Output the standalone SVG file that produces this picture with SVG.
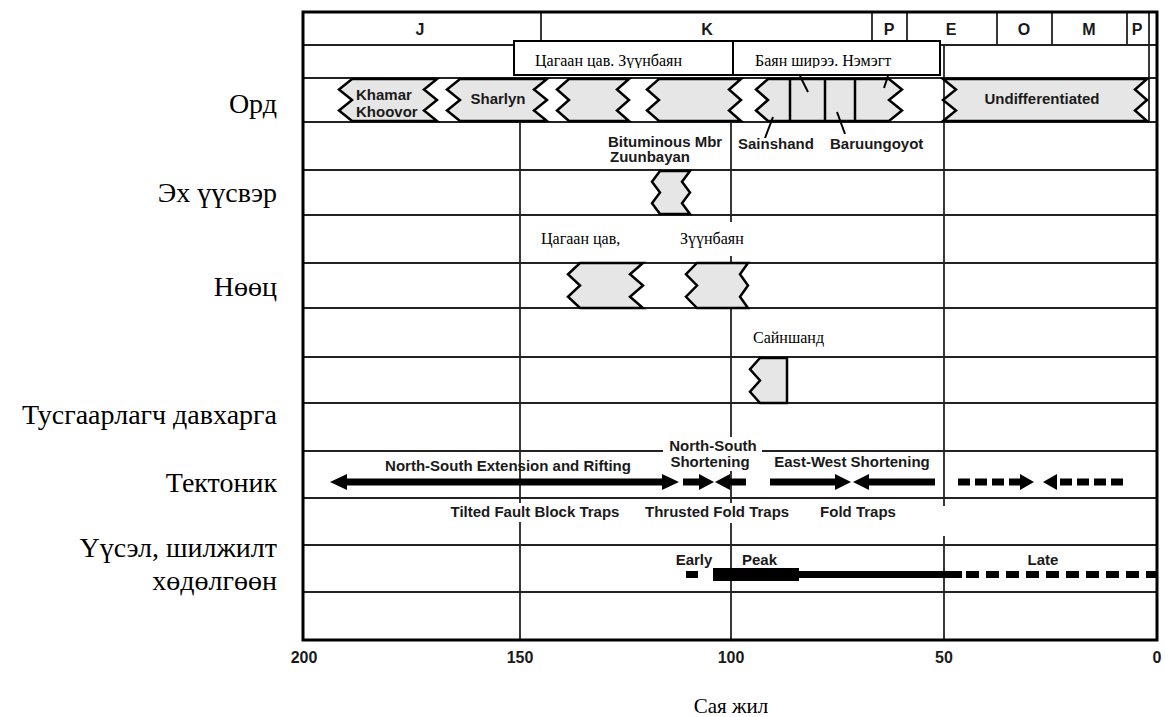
<svg xmlns="http://www.w3.org/2000/svg" width="1165" height="717" viewBox="0 0 1165 717">
<style>
.lbl{font-family:"Liberation Serif","Times New Roman",serif;font-size:28px;fill:#000}
.ser{font-family:"Liberation Serif","Times New Roman",serif;font-size:16px;fill:#000}
.b{font-family:"Liberation Sans",Arial,sans-serif;font-weight:bold;font-size:15px;fill:#1a1a1a}
.ax{font-family:"Liberation Sans",Arial,sans-serif;font-weight:bold;font-size:16px;fill:#1a1a1a}
.unit{fill:#e6e6e6;stroke:#000;stroke-width:2.5;stroke-linejoin:miter}
.grid{stroke:#222;stroke-width:1.8;fill:none}
.frame{stroke:#000;stroke-width:3;fill:none}
.box{fill:#fff;stroke:#000;stroke-width:2}
.arr{fill:#000;stroke:none}
.lead{stroke:#000;stroke-width:2}
.dash{stroke:#000;stroke-width:7;fill:none}
</style>
<defs>
<clipPath id="boxclip"><rect x="514" y="41" width="426" height="27"/></clipPath>
</defs>
<rect width="1165" height="717" fill="#fff"/>

<g id="grid">
<line class="grid" x1="303" y1="45" x2="1157" y2="45"/>
<line class="grid" x1="303" y1="78" x2="1157" y2="78"/>
<line class="grid" x1="303" y1="122" x2="1157" y2="122"/>
<line class="grid" x1="303" y1="170" x2="1157" y2="170"/>
<line class="grid" x1="303" y1="215" x2="1157" y2="215"/>
<line class="grid" x1="303" y1="263" x2="1157" y2="263"/>
<line class="grid" x1="303" y1="308" x2="1157" y2="308"/>
<line class="grid" x1="303" y1="357" x2="1157" y2="357"/>
<line class="grid" x1="303" y1="403" x2="1157" y2="403"/>
<line class="grid" x1="303" y1="451" x2="663" y2="451"/>
<line class="grid" x1="762" y1="451" x2="1157" y2="451"/>
<line class="grid" x1="303" y1="498" x2="1157" y2="498"/>
<line class="grid" x1="303" y1="545" x2="1157" y2="545"/>
<line class="grid" x1="303" y1="592" x2="1157" y2="592"/>
<line class="grid" x1="541" y1="12" x2="541" y2="45"/>
<line class="grid" x1="872" y1="12" x2="872" y2="45"/>
<line class="grid" x1="907" y1="12" x2="907" y2="45"/>
<line class="grid" x1="997" y1="12" x2="997" y2="45"/>
<line class="grid" x1="1052" y1="12" x2="1052" y2="45"/>
<line class="grid" x1="1127" y1="12" x2="1127" y2="45"/>
<line class="grid" x1="1149" y1="12" x2="1149" y2="122"/>
<line class="grid" x1="520" y1="122" x2="520" y2="503"/>
<line class="grid" x1="520" y1="522" x2="520" y2="640"/>
<line class="grid" x1="731" y1="122" x2="731" y2="222"/>
<line class="grid" x1="731" y1="256" x2="731" y2="437"/>
<line class="grid" x1="731" y1="471" x2="731" y2="503"/>
<line class="grid" x1="731" y1="523" x2="731" y2="640"/>
<line class="grid" x1="944" y1="45" x2="944" y2="506"/>
<line class="grid" x1="944" y1="536" x2="944" y2="640"/>
<rect class="frame" x="303" y="12" width="854" height="628"/>
</g>

<g id="periods">
<text class="ax" x="420" y="35" text-anchor="middle">J</text>
<text class="ax" x="707" y="35" text-anchor="middle">K</text>
<text class="ax" x="889" y="35" text-anchor="middle">P</text>
<text class="ax" x="951" y="35" text-anchor="middle">E</text>
<text class="ax" x="1024" y="35" text-anchor="middle">O</text>
<text class="ax" x="1089" y="35" text-anchor="middle">M</text>
<text class="ax" x="1137" y="35" text-anchor="middle">P</text>
</g>

<g id="box-tsagaan">
<rect class="box" x="514" y="41" width="219" height="34"/>
<text class="ser" x="535" y="66" clip-path="url(#boxclip)">Цагаан цав. Зүүнбаян</text>
</g>
<g id="box-bayan">
<rect class="box" x="733" y="41" width="207" height="34"/>
<text class="ser" x="755" y="66" clip-path="url(#boxclip)">Баян ширээ. Нэмэгт</text>
</g>

<g id="unit-khamar">
<polygon class="unit" points="352,79 437,79 424,89.5 437,100 424,110.5 437,121 352,121 339,110.5 352,100 339,89.5"/>
<text class="b" x="356" y="100">Khamar</text>
<text class="b" x="356" y="117">Khoovor</text>
</g>
<g id="unit-sharlyn">
<polygon class="unit" points="460,79 547,79 534,89.5 547,100 534,110.5 547,121 460,121 447,110.5 460,100 447,89.5"/>
<text class="b" x="498" y="104" text-anchor="middle">Sharlyn</text>
</g>
<g id="unit-3">
<polygon class="unit" points="569,79 629,79 617,89.5 629,100 617,110.5 629,121 569,121 557,110.5 569,100 557,89.5"/>
</g>
<g id="unit-zuunbayan">
<polygon class="unit" points="659,79 741,79 729,89.5 741,100 729,110.5 741,121 659,121 647,110.5 659,100 647,89.5"/>
<text class="b" x="608" y="147">Bituminous Mbr</text>
<text class="b" x="610" y="162">Zuunbayan</text>
</g>
<g id="unit-sainshand">
<polygon class="unit" points="768,79 889,79 902,89.5 889,100 902,110.5 889,121 768,121 756,110.5 768,100 756,89.5"/>
<line class="unit" x1="790" y1="79" x2="790" y2="121"/>
<line class="unit" x1="825" y1="79" x2="825" y2="121"/>
<line class="unit" x1="855" y1="79" x2="855" y2="121"/>
<text class="b" x="738" y="149">Sainshand</text>
<text class="b" x="830" y="149">Baruungoyot</text>
</g>
<g id="unit-undiff">
<polygon class="unit" points="943,79 1147,79 1135,89.5 1147,100 1135,110.5 1147,121 943,121 956,110.5 943,100 956,89.5"/>
<text class="b" x="1042" y="104" text-anchor="middle">Undifferentiated</text>
</g>

<g id="source-rock">
<polygon class="unit" points="660,171 690,171 682,181.75 690,192.5 682,203.25 690,214 660,214 652,203.25 660,192.5 652,181.75"/>
</g>

<g id="reservoir-tsagaan">
<text class="ser" x="541" y="244">Цагаан цав,</text>
<polygon class="unit" points="580,263 643,263 630,274.25 643,285.5 630,296.75 643,308 580,308 568,296.75 580,285.5 568,274.25"/>
</g>
<g id="reservoir-zuunbayan">
<text class="ser" x="680" y="244">Зүүнбаян</text>
<polygon class="unit" points="697,263 748,263 740,274.25 748,285.5 740,296.75 748,308 697,308 686,296.75 697,285.5 686,274.25"/>
</g>

<g id="seal">
<text class="ser" x="753" y="343">Сайншанд</text>
<polygon class="unit" points="760,358 787,358 787,403 760,403 750,391.75 760,380.5 750,369.25"/>
</g>

<g id="tectonics">
<text class="b" x="508" y="471" text-anchor="middle">North-South Extension and Rifting</text>
<text class="b" x="713" y="451" text-anchor="middle">North-South</text>
<text class="b" x="710" y="467" text-anchor="middle">Shortening</text>
<text class="b" x="852" y="467" text-anchor="middle">East-West Shortening</text>
<polygon class="arr" points="330,482 347,474 347,478.5 662,478.5 662,474 679,482 662,490 662,485.5 347,485.5 347,490"/>
<polygon class="arr" points="683,478.5 699,478.5 699,474 714,482 699,490 699,485.5 683,485.5"/>
<polygon class="arr" points="715,482 730,474 730,478.5 746,478.5 746,485.5 730,485.5 730,490"/>
<polygon class="arr" points="770,478.5 835,478.5 835,474 851,482 835,490 835,485.5 770,485.5"/>
<polygon class="arr" points="853,482 869,474 869,478.5 935,478.5 935,485.5 869,485.5 869,490"/>
<line class="dash" x1="958" y1="482" x2="1021" y2="482" stroke-dasharray="12 5"/>
<polygon class="arr" points="1020,474 1034,482 1020,490"/>
<polygon class="arr" points="1043,482 1057,474 1057,490"/>
<line class="dash" x1="1060" y1="482" x2="1123" y2="482" stroke-dasharray="12 5"/>
<text class="b" x="535" y="517" text-anchor="middle">Tilted Fault Block Traps</text>
<text class="b" x="645" y="517">Thrusted Fold Traps</text>
<text class="b" x="858" y="517" text-anchor="middle">Fold Traps</text>
</g>

<g id="migration">
<text class="b" x="694" y="565" text-anchor="middle">Early</text>
<text class="b" x="742" y="565">Peak</text>
<text class="b" x="1043" y="565" text-anchor="middle">Late</text>
<rect class="arr" x="686" y="571" width="12" height="7"/>
<rect class="arr" x="713" y="568" width="86" height="13"/>
<rect class="arr" x="799" y="571" width="163" height="7"/>
<line class="dash" x1="966" y1="574.5" x2="1157" y2="574.5" stroke-dasharray="13 7"/>
</g>

<g id="connectors">
<line class="lead" x1="773" y1="117" x2="765" y2="138"/>
<line class="lead" x1="837" y1="112" x2="845" y2="134"/>
<line class="lead" x1="800" y1="76" x2="808" y2="92"/>
<line class="lead" x1="888" y1="76" x2="884" y2="88"/>
</g>

<g id="row-labels">
<text class="lbl" x="277" y="113" text-anchor="end">Орд</text>
<text class="lbl" x="277" y="202" text-anchor="end">Эх үүсвэр</text>
<text class="lbl" x="277" y="296" text-anchor="end">Нөөц</text>
<text class="lbl" x="277" y="424" text-anchor="end">Тусгаарлагч давхарга</text>
<text class="lbl" x="277" y="492" text-anchor="end">Тектоник</text>
<text class="lbl" x="277" y="557" text-anchor="end">Үүсэл, шилжилт</text>
<text class="lbl" x="277" y="590" text-anchor="end">хөдөлгөөн</text>
</g>

<g id="axis">
<text class="ax" x="304" y="663" text-anchor="middle">200</text>
<text class="ax" x="520" y="663" text-anchor="middle">150</text>
<text class="ax" x="731" y="663" text-anchor="middle">100</text>
<text class="ax" x="944" y="663" text-anchor="middle">50</text>
<text class="ax" x="1157" y="663" text-anchor="middle">0</text>
<text class="ser" style="font-size:21px" x="731" y="713" text-anchor="middle">Сая жил</text>
</g>
</svg>
